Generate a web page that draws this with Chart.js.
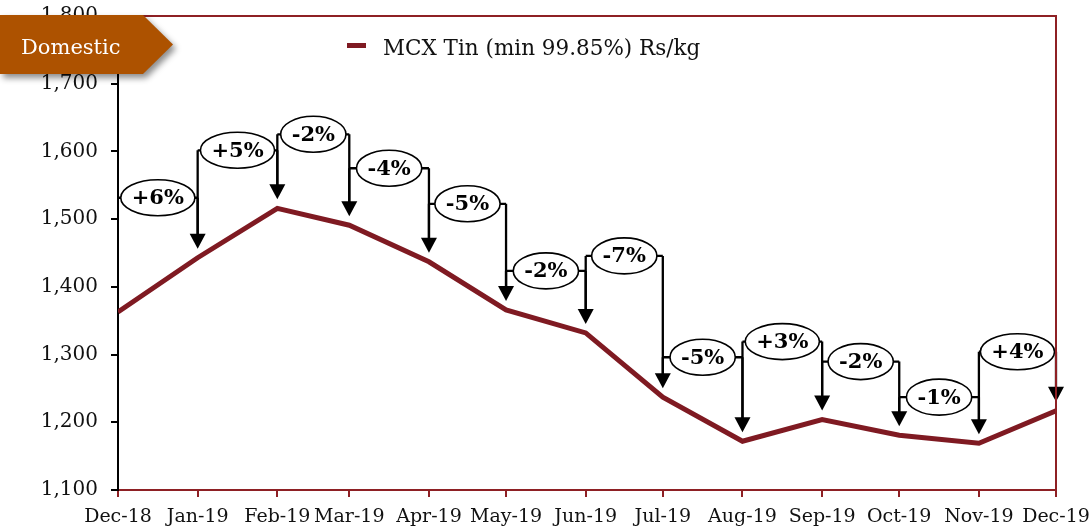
<!DOCTYPE html>
<html>
<head>
<meta charset="utf-8">
<script src="https://cdn.jsdelivr.net/npm/chart.js@4/dist/chart.umd.min.js"></script>
<style>
  html, body { margin: 0; padding: 0; background: #fff; }
  #wrap { width: 1089px; height: 531px; }
</style>
</head>
<body>
<div id="wrap"><canvas id="tinChart" width="1089" height="531"></canvas></div>
<script>
const months = ['Dec-18', 'Jan-19', 'Feb-19', 'Mar-19', 'Apr-19', 'May-19', 'Jun-19',
                'Jul-19', 'Aug-19', 'Sep-19', 'Oct-19', 'Nov-19', 'Dec-19'];
const prices = [1363, 1443, 1516, 1491, 1437, 1366, 1332, 1237, 1172, 1204, 1181, 1169, 1217];
const changes = ['+6%', '+5%', '-2%', '-4%', '-5%', '-2%', '-7%', '-5%', '+3%', '-2%', '-1%', '+4%'];
const yTicks = [1100, 1200, 1300, 1400, 1500, 1600, 1700, 1800];

const seriesName = 'MCX Tin (min 99.85%) Rs/kg';
const tagText = 'Domestic';

const MAROON = '#7f1a22';
const FRAME = '#8e2024';
const SERIF = '"DejaVu Serif", "Liberation Serif", serif';

// month labels -> day offsets, so the axis spacing follows month lengths
const monthIdx = { Jan: 0, Feb: 1, Mar: 2, Apr: 3, May: 4, Jun: 5, Jul: 6, Aug: 7, Sep: 8, Oct: 9, Nov: 10, Dec: 11 };
function dayOf(label) {
    const [m, yy] = label.split('-');
    return Date.UTC(2000 + Number(yy), monthIdx[m], 1) / 864e5;
}
const day0 = dayOf(months[0]);
const days = months.map(m => dayOf(m) - day0);

const points = days.map((d, i) => ({ x: d, y: prices[i] }));

// percentage call-outs with arrows down to each month's point
const calloutPlugin = {
    id: 'callouts',
    afterDatasetsDraw(chart, args, opts) {
        const { ctx, scales: { x, y } } = chart;
        const px = days.map(d => x.getPixelForValue(d));
        const py = prices.map(v => y.getPixelForValue(v));
        const gap = 9, headH = 15, headW = 8;

        ctx.save();
        ctx.strokeStyle = '#000';
        ctx.fillStyle = '#000';
        ctx.lineWidth = 2.3;

        const levels = changes.map((_, i) => Math.min(py[i], py[i + 1]) - opts.lift[i]);

        // brackets
        changes.forEach((_, i) => {
            const lv = levels[i];
            ctx.beginPath();
            ctx.moveTo(px[i], lv);
            ctx.lineTo(px[i + 1], lv);
            if (i > 0) {
                ctx.moveTo(px[i], lv);
                ctx.lineTo(px[i], py[i] - gap - headH + 1);
            }
            ctx.moveTo(px[i + 1], lv);
            ctx.lineTo(px[i + 1], py[i + 1] - gap - headH + 1);
            ctx.stroke();
        });

        // arrow heads
        for (let i = 1; i < px.length; i++) {
            const tip = py[i] - gap;
            ctx.beginPath();
            ctx.moveTo(px[i], tip);
            ctx.lineTo(px[i] - headW, tip - headH);
            ctx.lineTo(px[i] + headW, tip - headH);
            ctx.closePath();
            ctx.fill();
        }

        // labels in ellipses
        ctx.font = 'bold 21px ' + SERIF;
        ctx.textAlign = 'center';
        ctx.textBaseline = 'middle';
        changes.forEach((txt, i) => {
            const cx = (px[i] + px[i + 1]) / 2;
            const cy = levels[i];
            const rx = Math.min((ctx.measureText(txt).width + 22) / 2, (px[i + 1] - px[i]) / 2 - 1.5);
            ctx.beginPath();
            ctx.ellipse(cx, cy, rx, 18, 0, 0, Math.PI * 2);
            ctx.fillStyle = '#fff';
            ctx.fill();
            ctx.lineWidth = 1.6;
            ctx.stroke();
            ctx.fillStyle = '#000';
            ctx.fillText(txt, cx, cy + 1);
        });
        ctx.restore();
    },
    afterDraw(chart) {
        const { ctx, chartArea: a } = chart;
        ctx.save();

        // top and right frame
        ctx.strokeStyle = FRAME;
        ctx.lineWidth = 2;
        ctx.beginPath();
        ctx.moveTo(a.left, a.top);
        ctx.lineTo(a.right, a.top);
        ctx.lineTo(a.right, a.bottom);
        ctx.stroke();

        // legend
        ctx.fillStyle = MAROON;
        ctx.fillRect(347, 43, 19, 5);
        ctx.fillStyle = '#111';
        ctx.font = '21.5px ' + SERIF;
        ctx.textAlign = 'left';
        ctx.textBaseline = 'alphabetic';
        ctx.fillText(seriesName, 383, 55);

        // "Domestic" tag
        ctx.save();
        ctx.shadowColor = 'rgba(0,0,0,0.45)';
        ctx.shadowBlur = 6;
        ctx.shadowOffsetX = 3;
        ctx.shadowOffsetY = 4;
        ctx.fillStyle = '#ad5200';
        ctx.beginPath();
        ctx.moveTo(0, 15);
        ctx.lineTo(143, 15);
        ctx.lineTo(173, 44.5);
        ctx.lineTo(143, 74);
        ctx.lineTo(0, 74);
        ctx.closePath();
        ctx.fill();
        ctx.restore();
        ctx.fillStyle = '#fff';
        ctx.font = '21px ' + SERIF;
        ctx.textBaseline = 'alphabetic';
        ctx.fillText(tagText, 21, 54);

        ctx.restore();
    }
};

const config = {
    type: 'line',
    data: {
        datasets: [{
            label: seriesName,
            data: points,
            borderColor: MAROON,
            borderWidth: 5,
            pointRadius: 0,
            tension: 0,
            fill: false
        }]
    },
    options: {
        responsive: false,
        animation: false,
        devicePixelRatio: 1,
        layout: { padding: { top: 16, right: 33, bottom: 0, left: 0 } },
        plugins: {
            legend: { display: false },
            tooltip: { enabled: false },
            callouts: { lift: [60, 58, 74, 57, 58, 39, 77, 40, 78, 58, 38, 59] }
        },
        scales: {
            x: {
                type: 'linear',
                min: days[0],
                max: days[days.length - 1],
                afterBuildTicks: scale => { scale.ticks = days.map(d => ({ value: d })); },
                afterFit: scale => { scale.height = 41; scale.paddingLeft = 0; scale.paddingRight = 0; },
                ticks: {
                    autoSkip: false,
                    maxRotation: 0,
                    padding: 9,
                    color: '#111',
                    font: { family: SERIF, size: 19 },
                    callback: (v, i) => months[i]
                },
                grid: { drawOnChartArea: false, tickLength: 7, color: FRAME, lineWidth: 2 },
                border: { color: FRAME, width: 2 }
            },
            y: {
                min: yTicks[0],
                max: yTicks[yTicks.length - 1],
                afterBuildTicks: scale => { scale.ticks = yTicks.map(v => ({ value: v })); },
                afterFit: scale => { scale.width = 118; scale.paddingTop = 0; scale.paddingBottom = 0; },
                ticks: {
                    padding: 13,
                    color: '#111',
                    font: { family: SERIF, size: 20 },
                    callback: v => v.toLocaleString('en-US')
                },
                grid: { drawOnChartArea: false, tickLength: 7, color: '#000', lineWidth: 2 },
                border: { color: '#000', width: 2 }
            }
        }
    },
    plugins: [calloutPlugin]
};

const tinChart = new Chart(document.getElementById('tinChart'), config);
</script>
</body>
</html>
